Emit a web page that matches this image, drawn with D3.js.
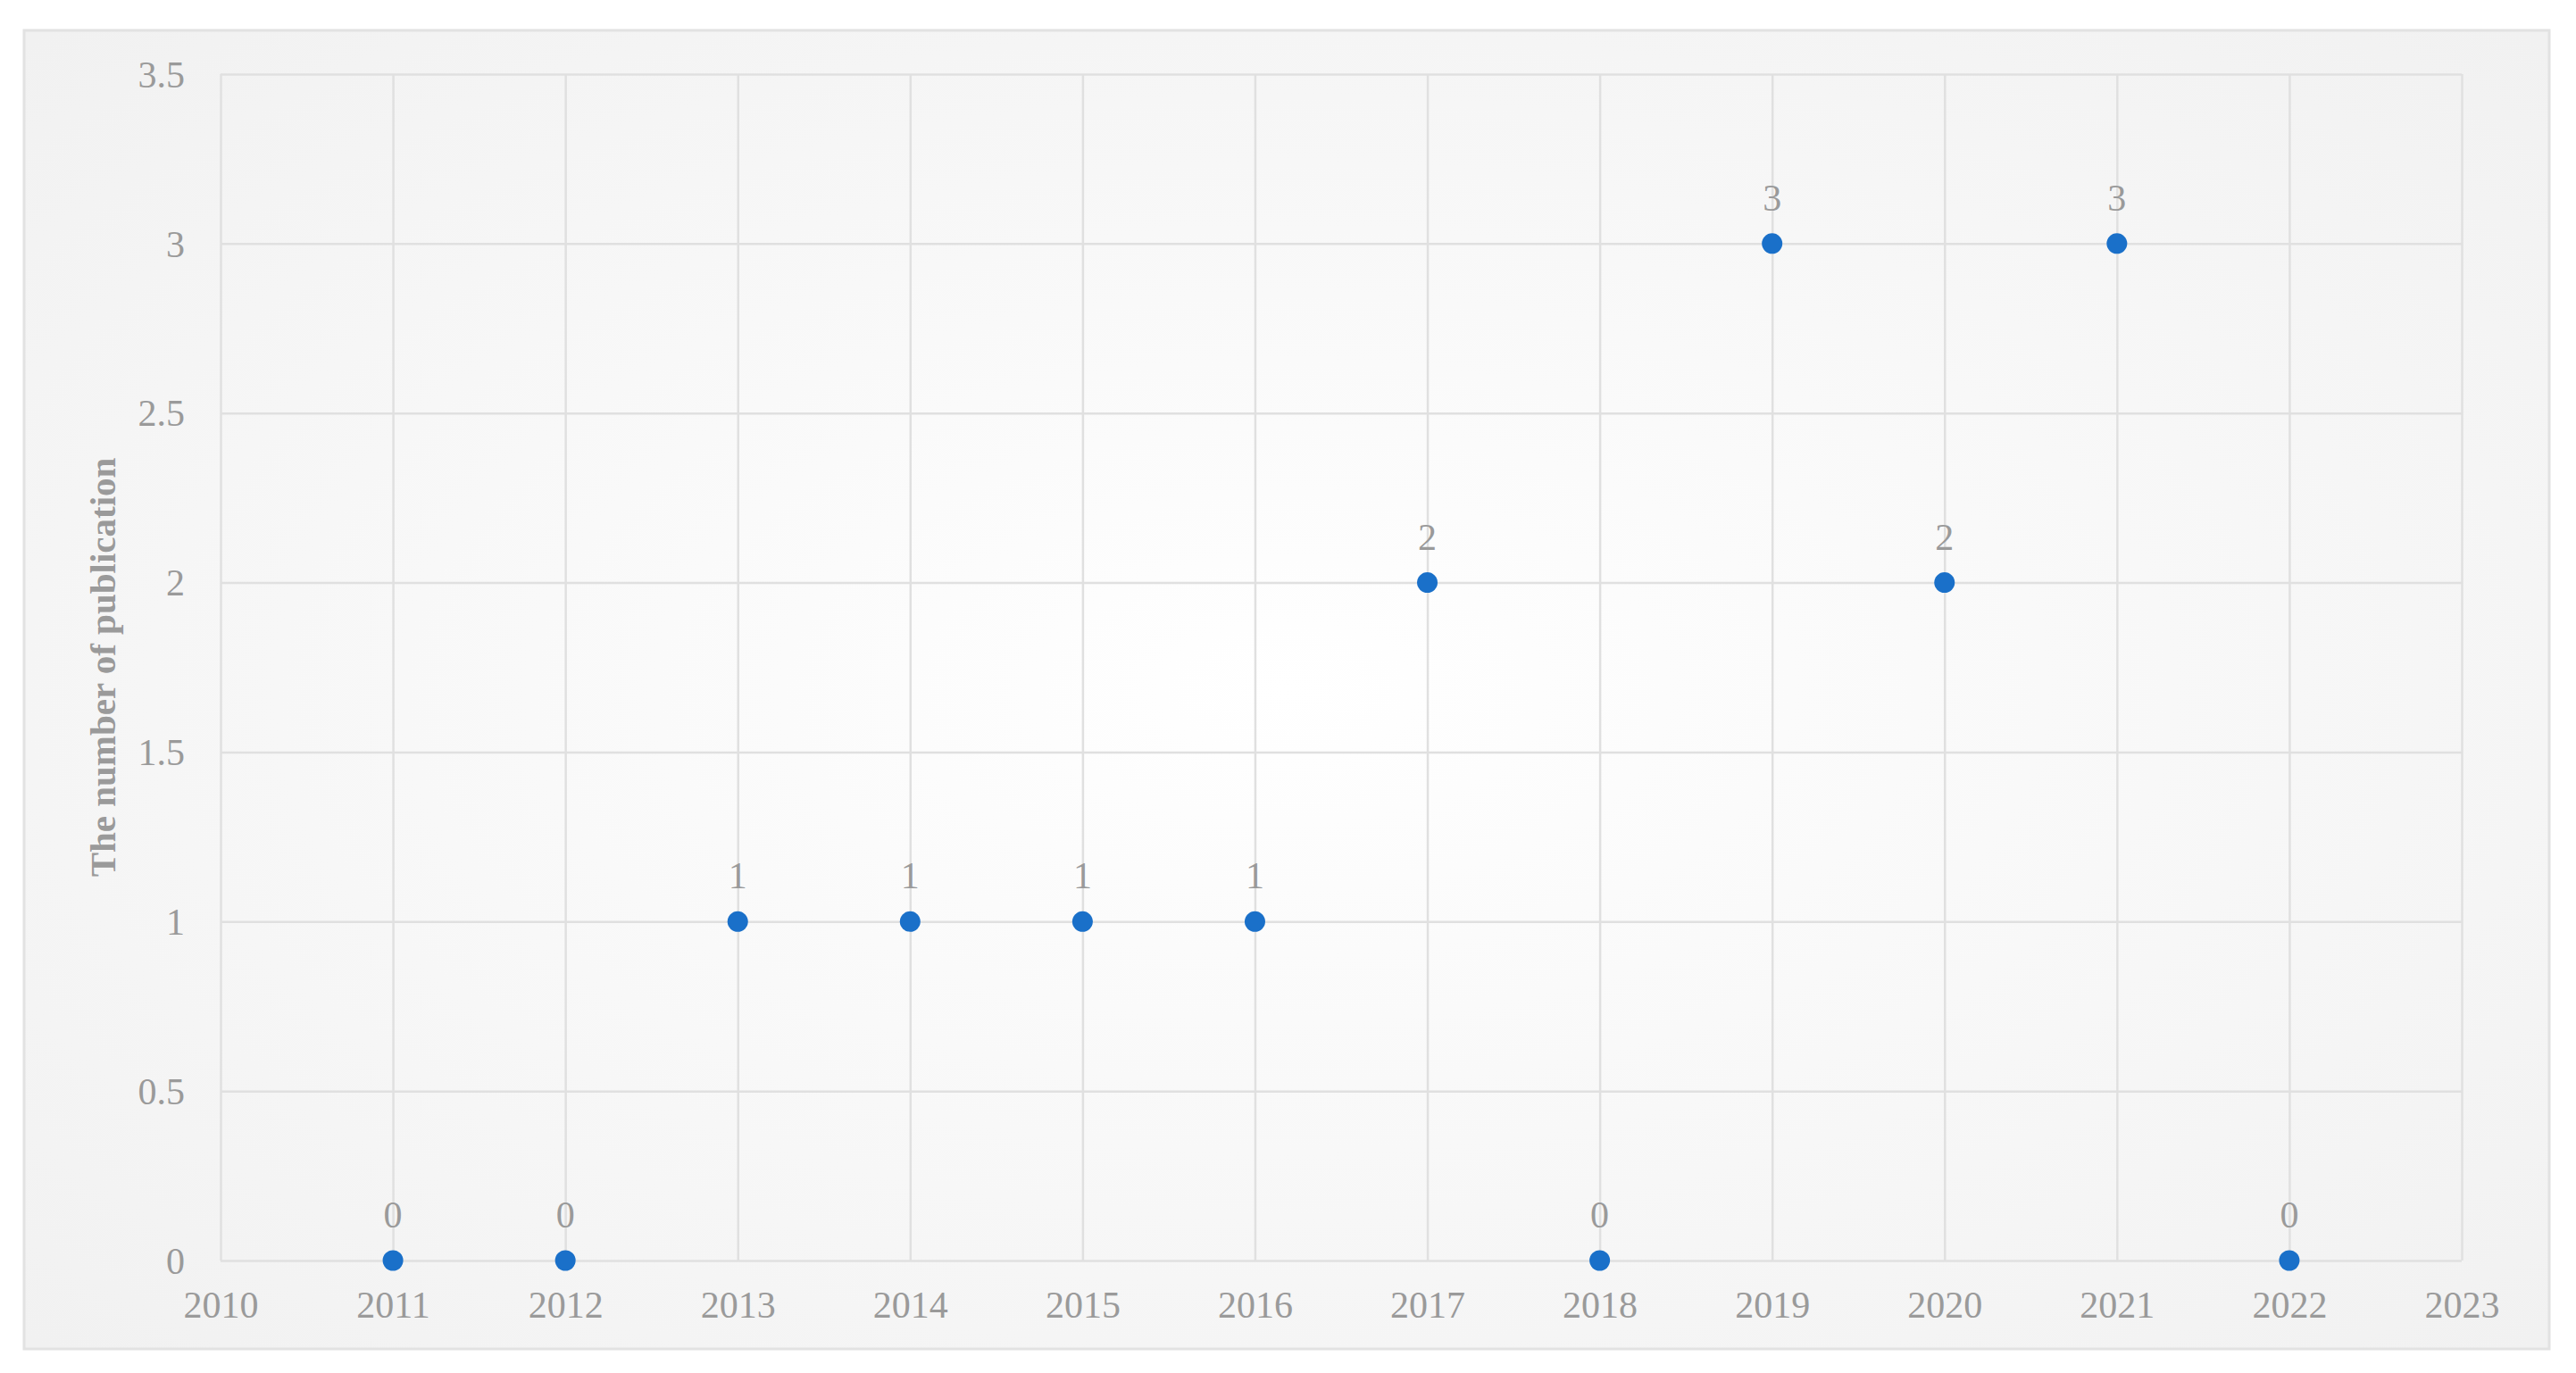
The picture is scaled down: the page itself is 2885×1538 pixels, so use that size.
<!DOCTYPE html>
<html><head><meta charset="utf-8">
<script src="https://cdn.jsdelivr.net/npm/d3@7"></script>
<style>html,body{margin:0;padding:0;background:#fff;}svg{display:block;}</style>
</head><body>
<script>
const years = [2011,2012,2013,2014,2015,2016,2017,2018,2019,2020,2021,2022];
const counts = [0,0,1,1,1,1,2,0,3,2,3,0];
const xTicks = [2010,2011,2012,2013,2014,2015,2016,2017,2018,2019,2020,2021,2022,2023];
const yTicks = [0,0.5,1,1.5,2,2.5,3,3.5];
const yTitle = "The number of publication";

const W = 2885, H = 1538;
const svg = d3.select("body").append("svg").attr("width", W).attr("height", H);
const defs = svg.append("defs");
const rg = defs.append("radialGradient").attr("id","bg").attr("cx","50%").attr("cy","50%").attr("r","70%");
rg.append("stop").attr("offset","0%").attr("stop-color","#ffffff");
rg.append("stop").attr("offset","100%").attr("stop-color","#f1f1f1");

svg.append("rect").attr("x",27).attr("y",34).attr("width",2828).attr("height",1477)
  .attr("fill","url(#bg)").attr("stroke","#e2e2e2").attr("stroke-width",3);

const L = 247, R = 2757, T = 83, B = 1412;
const x = d3.scaleLinear().domain([2010,2023]).range([L,R]);
const y = d3.scaleLinear().domain([0,3.5]).range([B,T]);

const font = "'Liberation Serif','Times New Roman',serif";
const grey = "#9a9a9a";

// gridlines
const gx = svg.append("g").attr("transform",`translate(0,${B})`)
  .call(d3.axisBottom(x).tickValues(xTicks).tickSize(-(B-T)).tickFormat(d3.format("d")).tickPadding(34));
const gy = svg.append("g").attr("transform",`translate(${L},0)`)
  .call(d3.axisLeft(y).tickValues(yTicks).tickSize(-(R-L)).tickFormat(d=>String(d)).tickPadding(40));
[gx,gy].forEach(g=>{
  g.select(".domain").remove();
  g.selectAll(".tick line").attr("stroke","#e0e0e0").attr("stroke-width",2.5);
  g.selectAll(".tick text").attr("fill",grey).attr("font-family",font).attr("font-size",42);
});
gx.selectAll(".tick text").attr("dy","0.71em");
gy.selectAll(".tick text").attr("dy","0.34em");

// points
svg.append("g").selectAll("circle").data(years.map((yr,i)=>({yr,v:counts[i]})))
  .join("circle").attr("cx",d=>x(d.yr)).attr("cy",d=>y(d.v)).attr("r",11.5).attr("fill","#1a70c9");

// data labels
svg.append("g").selectAll("text").data(years.map((yr,i)=>({yr,v:counts[i]})))
  .join("text").attr("x",d=>x(d.yr)).attr("y",d=>y(d.v)-37)
  .attr("text-anchor","middle").attr("fill",grey).attr("font-family",font).attr("font-size",42)
  .text(d=>d.v);

// y title
svg.append("text").attr("transform",`translate(129,${(T+B)/2}) rotate(-90)`)
  .attr("text-anchor","middle").attr("fill",grey).attr("font-family",font)
  .attr("font-weight","bold").attr("font-size",41).text(yTitle);
</script>
</body></html>
